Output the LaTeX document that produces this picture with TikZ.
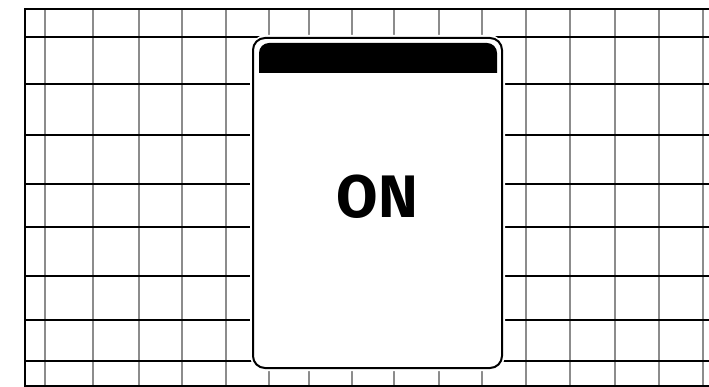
\documentclass[tikz,border=0pt]{standalone}
\usepackage{fontspec}
\setsansfont{Fira Sans}
\usepackage{tikz}
\usetikzlibrary{positioning,calc}

\begin{document}
\begin{tikzpicture}[
  x=1pt, y=-1pt,
  every node/.style={font=\sffamily},
  vline/.style={line width=1.6pt, color=black!45},
  hline/.style={line width=1.1pt, color=black},
  frame/.style={line width=2.6pt, color=black},
  card/.style={line width=2pt, fill=white, rounded corners=12pt},
  bar/.style={fill=black},
]
\useasboundingbox (0,0) rectangle (709,387);
% --- grid: gray verticals, black horizontals
\foreach \x in {45,93,139,182,226,269,309,352,394,439,482,526,570,615,659,703}
  \draw[vline] (\x,9) -- (\x,386);
\foreach \y in {37,84,135,184,227,276,320,361}
  \draw[hline] (25,\y) -- (709,\y);
% --- outer frame (top, left, bottom)
\draw[frame] (709,9) -- (25,9) -- (25,387);
\draw[hline] (25,386) -- (709,386);
% --- the card
\draw[white, line width=6pt, rounded corners=13pt] (253,38) rectangle (502,368);
\draw[card] (253,38) rectangle (502,368);
\fill[bar] (259,73) -- (259,53) [rounded corners=10pt] -- (259,43) -- (497,43) [sharp corners] -- (497,73) -- cycle;
\node[font=\sffamily\bfseries\fontsize{60}{60}\selectfont] (state) at (377.5,197) {ON};
\end{tikzpicture}
\end{document}
